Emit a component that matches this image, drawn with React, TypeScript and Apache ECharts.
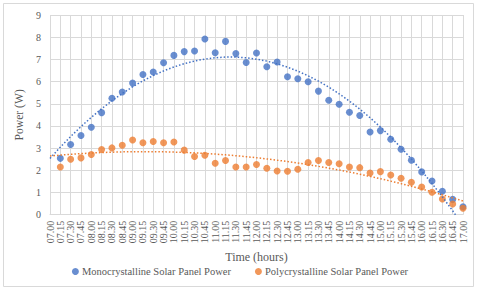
import React, { useEffect, useRef } from "react";
import * as echarts from "echarts";

const categories: string[] = [
  "07.00", "07.15", "07.30", "07.45", "08.00", "08.15", "08.30", "08.45",
  "09.00", "09.15", "09.30", "09.45", "10.00", "10.15", "10.30", "10.45",
  "11.00", "11.15", "11.30", "11.45", "12.00", "12.15", "12.30", "12.45",
  "13.00", "13.15", "13.30", "13.45", "14.00", "14.15", "14.30", "14.45",
  "15.00", "15.15", "15.30", "15.45", "16.00", "16.15", "16.30", "16.45",
  "17.00",
];

const monoPower: (number | null)[] = [
  null, 2.54, 3.16, 3.57, 3.94, 4.6, 5.25, 5.53,
  5.93, 6.32, 6.43, 6.85, 7.18, 7.35, 7.38, 7.92,
  7.3, 7.81, 7.26, 6.86, 7.29, 6.67, 6.88, 6.22,
  6.13, 5.99, 5.57, 5.16, 4.98, 4.62, 4.47, 3.73,
  3.79, 3.4, 2.95, 2.45, 1.93, 1.52, 1.06, 0.69,
  0.36,
];

const polyPower: (number | null)[] = [
  null, 2.15, 2.5, 2.56, 2.71, 2.94, 3.01, 3.13,
  3.37, 3.24, 3.3, 3.24, 3.28, 2.91, 2.62, 2.68,
  2.32, 2.44, 2.15, 2.15, 2.26, 2.09, 1.97, 1.96,
  2.05, 2.35, 2.44, 2.35, 2.3, 2.15, 2.12, 1.88,
  1.94, 1.79, 1.64, 1.46, 1.25, 1.01, 0.71, 0.48,
  0.29,
];

const yTicks = { min: 0, max: 9, interval: 1 };

const MONO_NAME = "Monocrystalline Solar Panel Power";
const POLY_NAME = "Polycrystalline Solar Panel Power";

// Least-squares quadratic trendline computed from the data
function quadTrend(values: (number | null)[]): number[] {
  let s0 = 0, s1 = 0, s2 = 0, s3 = 0, s4 = 0, t0 = 0, t1 = 0, t2 = 0;
  values.forEach((v, i) => {
    if (v == null) return;
    const x = i;
    s0 += 1; s1 += x; s2 += x * x; s3 += x * x * x; s4 += x * x * x * x;
    t0 += v; t1 += v * x; t2 += v * x * x;
  });
  const M = [
    [s0, s1, s2, t0],
    [s1, s2, s3, t1],
    [s2, s3, s4, t2],
  ];
  for (let c = 0; c < 3; c++) {
    let p = c;
    for (let r = c + 1; r < 3; r++) if (Math.abs(M[r][c]) > Math.abs(M[p][c])) p = r;
    [M[c], M[p]] = [M[p], M[c]];
    for (let r = 0; r < 3; r++) {
      if (r === c) continue;
      const f = M[r][c] / M[c][c];
      for (let k = c; k < 4; k++) M[r][k] -= f * M[c][k];
    }
  }
  const a = M[0][3] / M[0][0];
  const b = M[1][3] / M[1][1];
  const cc = M[2][3] / M[2][2];
  return values.map((_, i) => a + b * i + cc * i * i);
}

const FONT = "'Liberation Serif', 'Times New Roman', serif";
const TEXT = "#595959";
const GRID = "#d9d9d9";
const BLUE = "#4472C4";
const ORANGE = "#ED7D31";

export default function App() {
  const ref = useRef<HTMLDivElement>(null);
  useEffect(() => {
    if (!ref.current) return;
    const chart = echarts.init(ref.current, undefined, { renderer: "svg" });
    const monoTrend = quadTrend(monoPower);
    const polyTrend = quadTrend(polyPower);
    chart.setOption({
      animation: false,
      backgroundColor: "#ffffff",
      textStyle: { fontFamily: FONT },
      grid: { left: 50, right: 17, top: 15, bottom: 75.3, containLabel: false },
      graphic: [
        {
          type: "rect",
          shape: { x: 3.5, y: 3.5, width: 470, height: 283 },
          style: { fill: "none", stroke: GRID, lineWidth: 1 },
          silent: true,
        },
      ],
      legend: {
        data: [MONO_NAME, POLY_NAME],
        bottom: 8,
        left: "center",
        icon: "circle",
        itemWidth: 7,
        itemHeight: 7,
        itemGap: 24,
        textStyle: { fontFamily: FONT, fontSize: 10.5, color: TEXT, padding: [0, 0, 0, -2] },
      },
      xAxis: {
        type: "category",
        data: categories,
        boundaryGap: false,
        name: "Time (hours)",
        nameLocation: "middle",
        nameGap: 24,
        nameTextStyle: { fontFamily: FONT, fontSize: 12, color: TEXT },
        axisLine: { show: true, lineStyle: { color: GRID } },
        axisTick: { show: false },
        splitLine: { show: true, interval: 0, lineStyle: { color: GRID } },
        axisLabel: {
          rotate: 90,
          interval: 0,
          fontFamily: FONT,
          fontSize: 10,
          color: TEXT,
          margin: 6,
        },
      },
      yAxis: {
        type: "value",
        min: yTicks.min,
        max: yTicks.max,
        interval: yTicks.interval,
        name: "Power (W)",
        nameLocation: "middle",
        nameRotate: 90,
        nameGap: 12,
        nameTextStyle: { fontFamily: FONT, fontSize: 11.6, color: TEXT },
        axisLine: { show: false },
        axisTick: { show: false },
        splitLine: { show: true, lineStyle: { color: GRID } },
        axisLabel: { fontFamily: FONT, fontSize: 10, color: TEXT, margin: 9 },
      },
      series: [
        {
          name: MONO_NAME,
          type: "scatter",
          data: monoPower,
          symbolSize: 7,
          itemStyle: { color: BLUE },
          z: 3,
        },
        {
          name: POLY_NAME,
          type: "scatter",
          data: polyPower,
          symbolSize: 7,
          itemStyle: { color: ORANGE },
          z: 3,
        },
        {
          name: "Mono trend",
          type: "line",
          data: monoTrend,
          showSymbol: false,
          symbol: "none",
          smooth: false,
          clip: true,
          lineStyle: { color: BLUE, width: 1.5, type: [1.5, 2] },
          z: 4,
        },
        {
          name: "Poly trend",
          type: "line",
          data: polyTrend,
          showSymbol: false,
          symbol: "none",
          clip: true,
          lineStyle: { color: ORANGE, width: 1.5, type: [1.5, 2] },
          z: 4,
        },
      ],
    });
    return () => chart.dispose();
  }, []);
  return (
    <div
      ref={ref}
      style={{ position: "fixed", left: 0, top: 0, width: 480, height: 290 }}
    />
  );
}
